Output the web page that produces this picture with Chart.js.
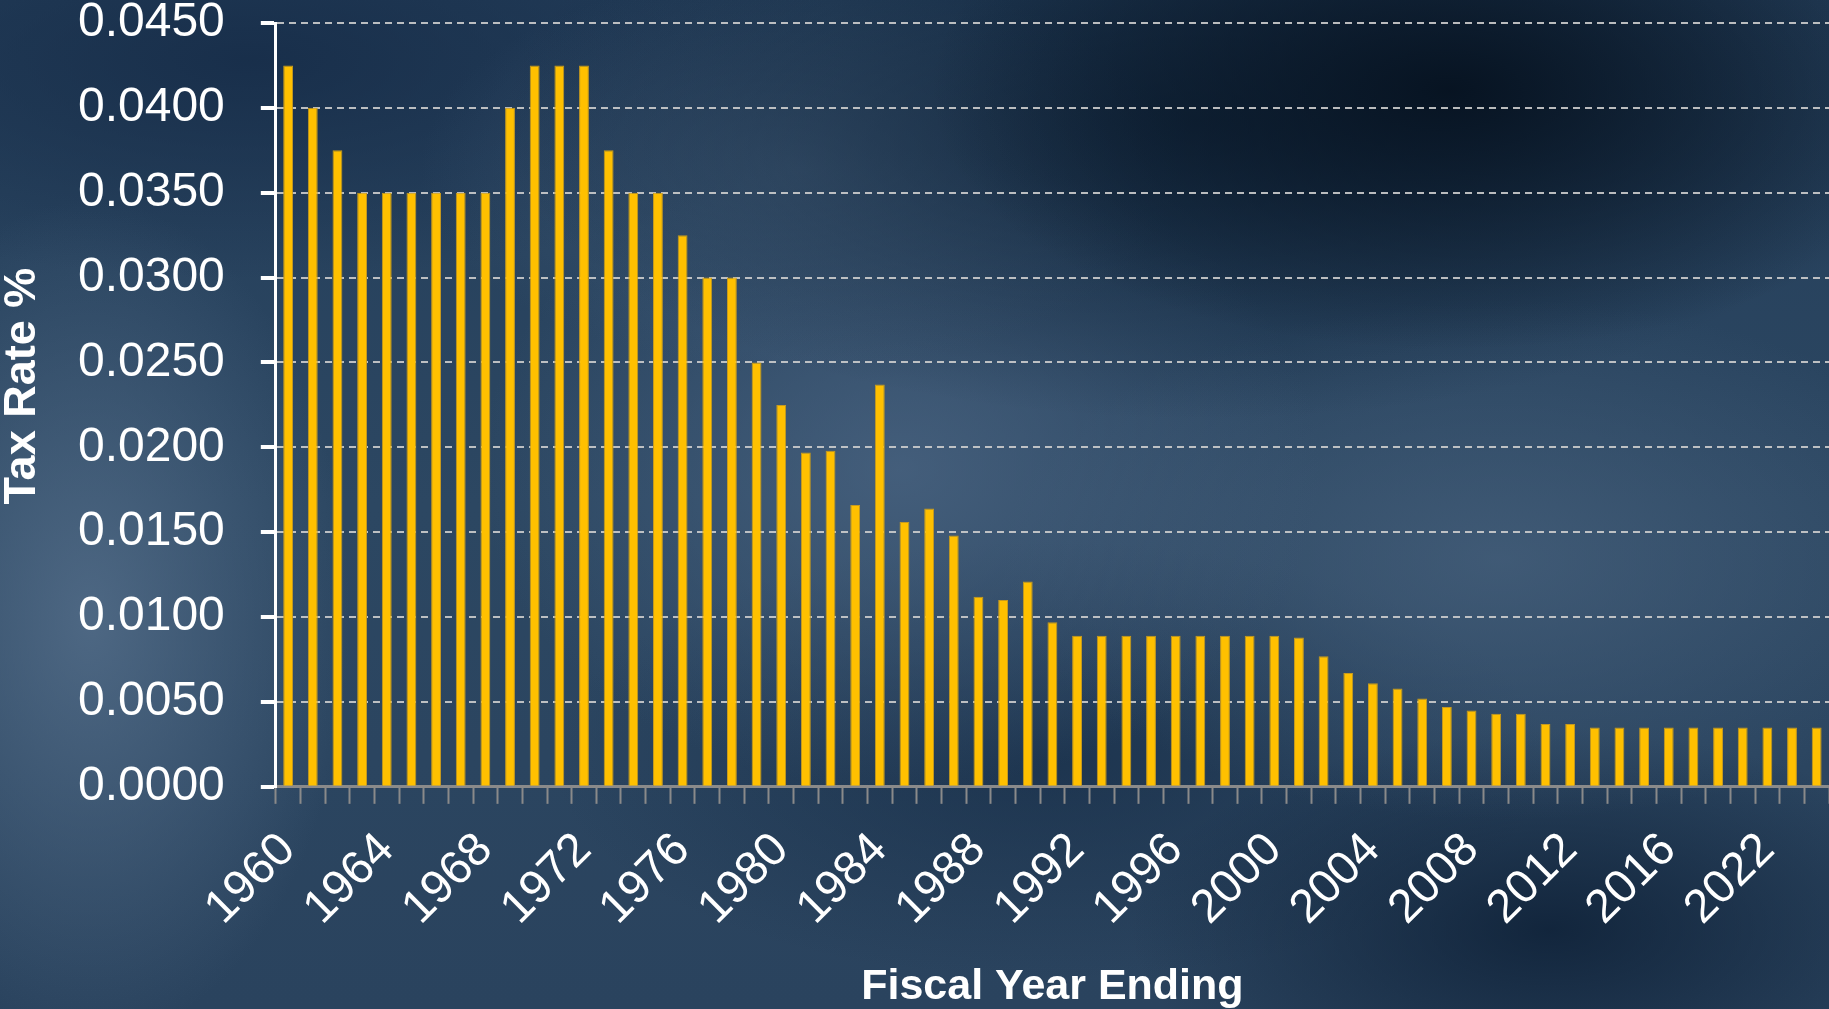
<!DOCTYPE html>
<html>
<head>
<meta charset="utf-8">
<script src="https://cdn.jsdelivr.net/npm/chart.js@4.4.1/dist/chart.umd.min.js"></script>
<style>
  html, body { margin: 0; padding: 0; }
  body {
    width: 1829px;
    height: 1009px;
    overflow: hidden;
    background-color: #27415c;
    background-image:
      radial-gradient(ellipse 520px 260px at 1450px 90px, rgba(6,18,32,0.95), rgba(6,18,32,0) 100%),
      radial-gradient(ellipse 700px 300px at 1200px 120px, rgba(10,28,48,0.7), rgba(10,28,48,0) 100%),
      radial-gradient(ellipse 380px 200px at 800px 170px, rgba(70,96,124,0.6), rgba(70,96,124,0) 100%),
      radial-gradient(ellipse 420px 320px at 900px 470px, rgba(78,104,134,0.7), rgba(78,104,134,0) 100%),
      radial-gradient(ellipse 500px 260px at 1500px 560px, rgba(72,98,126,0.7), rgba(72,98,126,0) 100%),
      radial-gradient(ellipse 260px 420px at 90px 620px, rgba(86,112,140,0.8), rgba(86,112,140,0) 100%),
      radial-gradient(ellipse 600px 220px at 250px 60px, rgba(22,44,72,0.85), rgba(22,44,72,0) 100%),
      radial-gradient(ellipse 420px 200px at 1550px 930px, rgba(12,30,52,0.8), rgba(12,30,52,0) 100%),
      radial-gradient(ellipse 500px 220px at 1050px 760px, rgba(20,42,68,0.6), rgba(20,42,68,0) 100%),
      linear-gradient(180deg, #243e5a 0%, #2c4762 50%, #2a435e 100%);
  }
  #wrap { position: absolute; left: 0; top: 0; width: 1829px; height: 1009px; }
</style>
</head>
<body>
<div id="wrap"><canvas id="dash"></canvas></div>
<script>
const dash = document.getElementById("dash");

const years = ['1960', '1961', '1962', '1963', '1964', '1965', '1966', '1967', '1968', '1969',
  '1970', '1971', '1972', '1973', '1974', '1975', '1976', '1977', '1978', '1979',
  '1980', '1981', '1982', '1983', '1984', '1985', '1986', '1987', '1988', '1989',
  '1990', '1991', '1992', '1993', '1994', '1995', '1996', '1997', '1998', '1999',
  '2000', '2001', '2002', '2003', '2004', '2005', '2006', '2007', '2008', '2009',
  '2010', '2011', '2012', '2013', '2014', '2015', '2016', '2017', '2018', '2019',
  '2022', '2023', '2024'];

const taxRates = [0.0425, 0.0400, 0.0375, 0.0350, 0.0350, 0.0350, 0.0350, 0.0350, 0.0350, 0.0400,
  0.0425, 0.0425, 0.0425, 0.0375, 0.0350, 0.0350, 0.0325, 0.0300, 0.0300, 0.0250,
  0.0225, 0.0197, 0.0198, 0.0166, 0.0237, 0.0156, 0.0164, 0.0148, 0.0112, 0.0110,
  0.0121, 0.0097, 0.0089, 0.0089, 0.0089, 0.0089, 0.0089, 0.0089, 0.0089, 0.0089,
  0.0089, 0.0088, 0.0077, 0.0067, 0.0061, 0.0058, 0.0052, 0.0047, 0.0045, 0.0043,
  0.0043, 0.0037, 0.0037, 0.0035, 0.0035, 0.0035, 0.0035, 0.0035, 0.0035, 0.0035,
  0.0035, 0.0035, 0.0035];

const yTicks = [0, 0.005, 0.010, 0.015, 0.020, 0.025, 0.030, 0.035, 0.040, 0.045];

const X_PAD = 22;
const Y_PAD = 36;

new Chart(dash, {
  type: "bar",
  data: {
    labels: years,
    datasets: [
      {
        label: "Tax Rate %",
        data: taxRates,
        backgroundColor: "#FFC000",
        borderColor: "#C79A1E",
        borderWidth: 1,
        barPercentage: 0.4,
        categoryPercentage: 1,
      },
    ],
  },
  options: {
    responsive: true,
    maintainAspectRatio: false,
    animation: false,
    layout: { padding: 0 },
    scales: {
      x: {
        // chart.js counts tick padding twice; also let the plot run to the right edge
        afterFit: (scale) => {
          scale.paddingLeft = 0;
          scale.paddingRight = 0;
          scale.height -= X_PAD;
        },
        grid: {
          offset: true,
          drawOnChartArea: false,
          tickLength: 17,
          tickColor: "#8a8a8a",
          tickWidth: 2,
        },
        border: { color: "#8a8a8a", width: 3 },
        ticks: {
          autoSkip: false,
          maxRotation: 45,
          minRotation: 45,
          padding: X_PAD,
          color: "#fff",
          font: { family: "Liberation Sans", size: 47, lineHeight: 1 },
          callback: function (val, i) {
            return i % 4 === 0 ? this.getLabelForValue(val) : "";
          },
        },
        title: {
          display: true,
          text: "Fiscal Year Ending",
          color: "#fff",
          font: { family: "Liberation Sans", weight: "bold", size: 43, lineHeight: 1 },
          padding: { top: 33, bottom: 0 },
        },
      },
      y: {
        min: 0,
        max: 0.045,
        afterBuildTicks: (axis) => { axis.ticks = yTicks.map(v => ({ value: v })); },
        afterFit: (scale) => {
          scale.paddingTop = 23;
          scale.paddingBottom = 0;
          scale.width -= Y_PAD;
        },
        grid: {
          color: "rgba(205,205,205,0.9)",
          lineWidth: 2,
          tickLength: 15,
          tickColor: "#fff",
          tickWidth: 4,
        },
        border: { color: "#fff", width: 3, dash: [7, 5] },
        ticks: {
          color: "#fff",
          padding: Y_PAD,
          font: { family: "Liberation Sans", size: 48, lineHeight: 1 },
          callback: (v) => Number(v).toFixed(4),
        },
        title: {
          display: true,
          text: "   Tax Rate %", // leading spaces lift the title a little, as in the original
          color: "#fff",
          font: { family: "Liberation Sans", weight: "bold", size: 45, lineHeight: 1 },
          padding: { top: 0, bottom: 33 },
        },
      },
    },
    plugins: {
      legend: { display: false },
      tooltip: { enabled: false },
    },
  },
});
</script>
</body>
</html>
